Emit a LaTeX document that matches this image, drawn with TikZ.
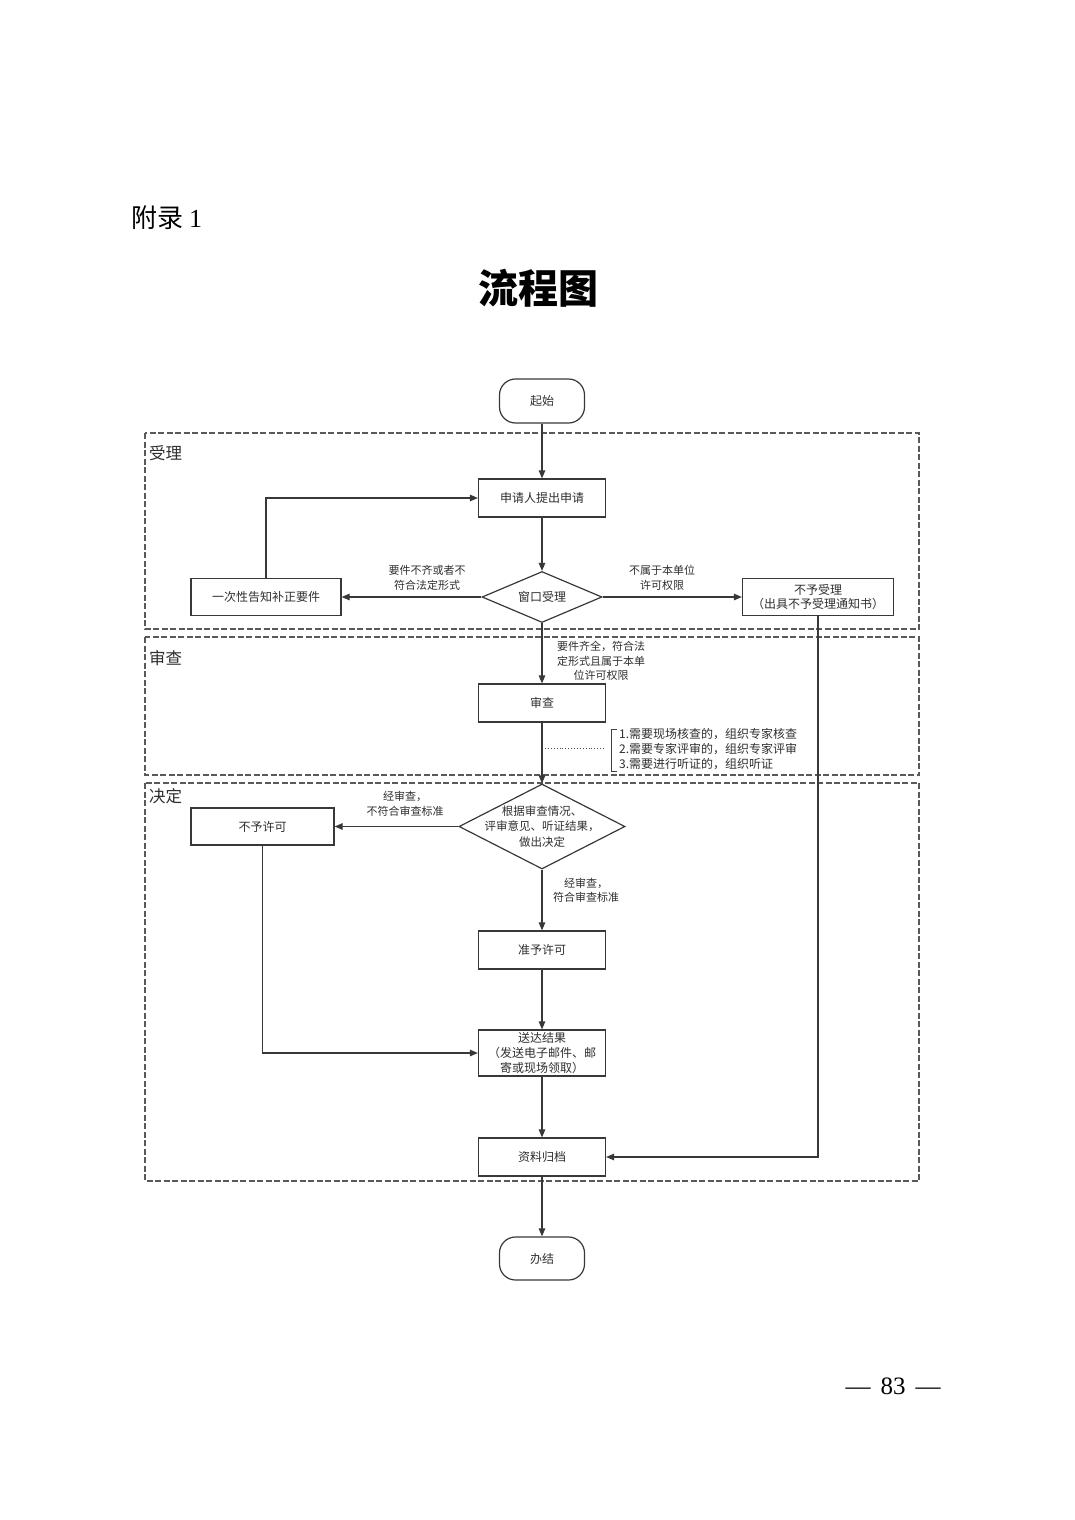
\documentclass[tikz,border=0pt]{standalone}
\usepackage{fontspec}
\setmainfont{Noto Sans CJK SC}
\newfontfamily\serifnum{Liberation Serif}
\usetikzlibrary{arrows.meta,shapes.geometric}
\begin{document}
\begin{tikzpicture}[x=1pt,y=-1pt,
  font=\fontsize{12}{15}\selectfont,
  every node/.style={text=black!82},
  box/.style={draw=black!78, line width=1.2pt, minimum width=127pt, minimum height=38pt, inner sep=1pt, align=center},
  term/.style={draw=black!78, line width=1.2pt, rounded corners=16pt, minimum width=85pt, minimum height=44pt, inner sep=0pt},
  dia/.style={draw=black!78, line width=1.2pt, diamond, inner sep=0pt},
  lane/.style={draw=black!65, line width=1.2pt, dash pattern=on 6pt off 2.5pt},
  arr/.style={draw=black!78, line width=1.2pt, -{Triangle[length=8pt,width=6.5pt]}},
  lbl/.style={align=center, inner sep=0pt, font=\fontsize{11}{14.5}\selectfont},
  lanelbl/.style={anchor=west, inner sep=0pt, font=\fontsize{16.5}{18}\selectfont},
]
\useasboundingbox (0,0) rectangle (1074,1520);

% headings
\node[anchor=west, inner sep=0pt, font=\fontsize{26}{30}\selectfont, text=black] (fulu) at (131,218) {附录 {\serifnum 1}};
\node[inner sep=0pt, font=\fontsize{40}{44}\selectfont\bfseries, text=black] (title) at (538,288) {流程图};
\node[inner sep=0pt, font=\serifnum\fontsize{25}{28}\selectfont, text=black] (page) at (893,1386) {—\hspace{10pt}83\hspace{10pt}—};

% swimlanes
\draw[lane] (145,433) rectangle (919,629);
\draw[lane] (145,637) rectangle (919,775);
\draw[lane] (145,783) rectangle (919,1181);
\node[lanelbl] (l1) at (149,453) {受理};
\node[lanelbl] (l2) at (149,658) {审查};
\node[lanelbl] (l3) at (149,796) {决定};

% nodes
\node[term] (start) at (542,401) {起始};
\node[box] (sq) at (542,498) {申请人提出申请};
\node[dia, minimum width=120pt, minimum height=51pt] (d1) at (542,597) {};
\node[inner sep=0pt] (d1t) at (d1.center) {窗口受理};
\node[box, minimum width=150pt, minimum height=37pt] (bz) at (266,597) {一次性告知补正要件};
\node[box, minimum width=151pt, minimum height=37pt, font=\fontsize{12}{14}\selectfont] (bsl) at (818,597) {不予受理\\（出具不予受理通知书）};
\node[box] (sc) at (542,703) {审查};
\node[dia, minimum width=166pt, minimum height=85pt] (d2) at (542,826.5) {};
\node[inner sep=0pt, align=center, font=\fontsize{11.5}{15.5}\selectfont] (d2t) at (d2.center) {根据审查情况、\\评审意见、听证结果，\\做出决定};
\node[box, minimum width=143pt, minimum height=37pt] (byx) at (262.5,826.5) {不予许可};
\node[box] (zy) at (542,950) {准予许可};
\node[box, minimum height=46pt, font=\fontsize{12}{15}\selectfont] (sd) at (542,1053) {送达结果\\（发送电子邮件、邮\\寄或现场领取）};
\node[box] (zl) at (542,1157) {资料归档};
\node[term, minimum height=43pt] (end) at (542,1258.5) {办结};

% connectors
\draw[arr] (start.south) -- (sq.north);
\draw[arr] (sq.south) -- (d1.north);
\draw[arr] (d1.west) -- (bz.east);
\draw[arr] (d1.east) -- (bsl.west);
\draw[arr] (bz.north) |- (sq.west);
\draw[arr] (d1.south) -- (sc.north);
\draw[arr] (sc.south) -- (d2.north);
\draw[arr] (d2.west) -- (byx.east);
\draw[arr] (d2.south) -- (zy.north);
\draw[arr] (zy.south) -- (sd.north);
\draw[arr] (byx.south) |- (sd.west);
\draw[arr] (sd.south) -- (zl.north);
\draw[arr] (bsl.south) |- (zl.east);
\draw[arr] (zl.south) -- (end.north);

% edge labels
\node[lbl] (e1) at (427,578) {要件不齐或者不\\符合法定形式};
\node[lbl] (e2) at (662,578) {不属于本单位\\许可权限};
\node[lbl] (e3) at (601,661) {要件齐全，符合法\\定形式且属于本单\\位许可权限};
\node[lbl] (e4) at (405,804) {经审查，\\不符合审查标准};
\node[lbl] (e5) at (586,890.5) {经审查，\\符合审查标准};

% annotation
\coordinate (ann0) at (545,748);
\coordinate (ann1) at (605,748);
\draw[black!70, line width=0.9pt, dotted] (ann0) -- (ann1);
\draw[black!75, line width=1pt] (617,729) -- (611,729) -- (611,771) -- (617,771);
\node[anchor=west, align=left, inner sep=0pt, font=\fontsize{12}{15}\selectfont] (ann) at (619,749) {1.需要现场核查的，组织专家核查\\2.需要专家评审的，组织专家评审\\3.需要进行听证的，组织听证};
\end{tikzpicture}
\end{document}
